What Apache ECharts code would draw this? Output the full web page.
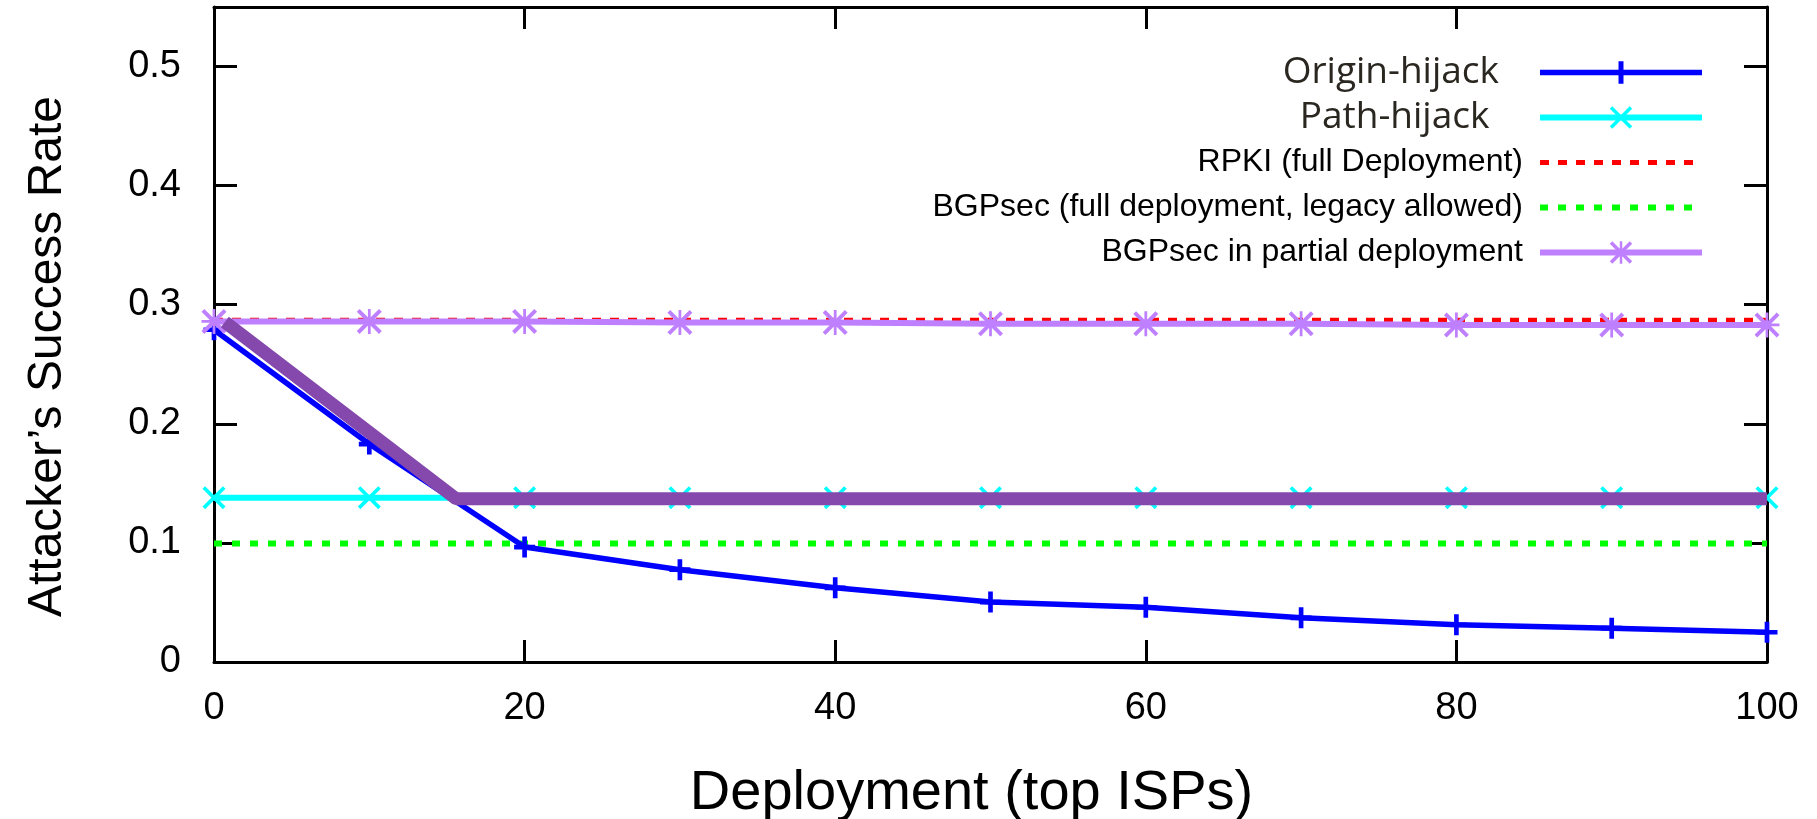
<!DOCTYPE html>
<html>
<head>
<meta charset="utf-8">
<script src="https://cdn.jsdelivr.net/npm/echarts@6/dist/echarts.min.js"></script>
<style>
  html, body { margin: 0; padding: 0; background: #fff; }
  #chart { width: 1817px; height: 819px; }
</style>
</head>
<body>
<div id="chart"></div>
<script>
// deployment of top ISPs (x values)
const deployment = [0, 10, 20, 30, 40, 50, 60, 70, 80, 90, 100];
const originHijack = [0.279, 0.183, 0.0965, 0.0775, 0.0623, 0.0503, 0.046, 0.0371, 0.0313, 0.0284, 0.025];
const pathHijack = [0.138, 0.138, 0.138, 0.138, 0.138, 0.138, 0.138, 0.138, 0.138, 0.138, 0.138];
const rpkiFull = [0.287, 0.287, 0.287, 0.287, 0.287, 0.287, 0.287, 0.287, 0.287, 0.287, 0.287];
const bgpsecFull = [0.0995, 0.0995, 0.0995, 0.0995, 0.0995, 0.0995, 0.0995, 0.0995, 0.0995, 0.0995, 0.0995];
const bgpsecPartial = [0.286, 0.286, 0.286, 0.285, 0.285, 0.284, 0.284, 0.284, 0.283, 0.283, 0.283];
// the thick overlay line (not in the legend)
const overlayX = [0.7, 15.6, 100];
const overlayY = [0.2855, 0.137, 0.137];

const xTicks = { min: 0, max: 100, interval: 20 };
const yTicks = { min: 0, max: 0.55, interval: 0.1 };

const seriesNames = [
  'Origin-hijack',
  'Path-hijack ',
  'RPKI (full Deployment)',
  'BGPsec (full deployment, legacy allowed)',
  'BGPsec in partial deployment'
];

const pts = (xs, ys) => xs.map((x, i) => [x, ys[i]]);

// gnuplot-like point shapes as filled paths
const plusPath = 'path://M7,0H11V7H18V11H11V18H7V11H0V7H7Z';
const crossPath = 'path://M0,2L2,0L18,16L16,18Z M16,0L18,2L2,18L0,16Z';
const starPath = 'path://M0,2L2,0L18,16L16,18Z M16,0L18,2L2,18L0,16Z M8,0H10V18H8Z M0,8H18V10H0Z';

const chart = echarts.init(document.getElementById('chart'));

const axisLineStyle = { color: '#000', width: 3 };
const tickStyle = { color: '#000', width: 3 };
const calibriLike = { fontFamily: 'Open Sans', fontSize: 37, color: '#2a2620', padding: [0, 36, 0, 0] };
const noMark = { color: 'rgba(0,0,0,0)', borderWidth: 0 };

chart.setOption({
  animation: false,
  backgroundColor: '#fff',
  grid: { left: 214, right: 50, top: 7, bottom: 157, outerBoundsMode: 'none' },
  legend: {
    orient: 'vertical',
    right: 107,
    top: 46,
    align: 'right',
    itemWidth: 162,
    itemHeight: 28,
    itemGap: 2,
    lineStyle: { width: 'inherit' },
    textStyle: { fontFamily: 'Liberation Sans', fontSize: 32, lineHeight: 43, color: '#000', padding: [0, 12, 0, 0] },
    data: [
      { name: seriesNames[0], textStyle: calibriLike },
      { name: seriesNames[1], textStyle: calibriLike },
      { name: seriesNames[2], itemStyle: noMark },
      { name: seriesNames[3], itemStyle: noMark },
      { name: seriesNames[4] }
    ]
  },
  xAxis: [{
    type: 'value',
    min: xTicks.min, max: xTicks.max, interval: xTicks.interval,
    name: 'Deployment (top ISPs)',
    nameLocation: 'middle',
    nameGap: 104,
    nameTextStyle: { fontFamily: 'Liberation Sans', fontSize: 56, color: '#000', padding: [0, 38, 0, 0] },
    axisLine: { onZero: false, lineStyle: axisLineStyle },
    axisTick: { inside: true, length: 22, lineStyle: tickStyle },
    axisLabel: { margin: 28, fontFamily: 'Liberation Sans', fontSize: 38, color: '#000' },
    splitLine: { show: false }
  }, {
    type: 'value', position: 'top',
    min: xTicks.min, max: xTicks.max, interval: xTicks.interval,
    axisLine: { show: true, onZero: false, lineStyle: axisLineStyle },
    axisTick: { inside: true, length: 22, lineStyle: tickStyle },
    axisLabel: { show: false },
    splitLine: { show: false }
  }],
  yAxis: [{
    type: 'value',
    min: yTicks.min, max: yTicks.max, interval: yTicks.interval,
    name: "Attacker\u2019s Success Rate",
    nameLocation: 'middle',
    nameGap: 142,
    nameTextStyle: { fontFamily: 'Liberation Sans', fontSize: 48, color: '#000', padding: [0, 44, 0, 0] },
    axisLine: { show: true, onZero: false, lineStyle: axisLineStyle },
    axisTick: { inside: true, length: 23, lineStyle: tickStyle },
    axisLabel: { margin: 33, fontFamily: 'Liberation Sans', fontSize: 38, color: '#000', showMaxLabel: false },
    splitLine: { show: false }
  }, {
    type: 'value', position: 'right',
    min: yTicks.min, max: yTicks.max, interval: yTicks.interval,
    axisLine: { show: true, onZero: false, lineStyle: axisLineStyle },
    axisTick: { inside: true, length: 23, lineStyle: tickStyle },
    axisLabel: { show: false },
    splitLine: { show: false }
  }],
  series: [{
    name: seriesNames[2],
    type: 'line',
    data: pts(deployment, rpkiFull),
    symbol: 'none',
    itemStyle: { color: '#ff0000' },
    lineStyle: { color: '#ff0000', width: 5, type: [9, 9] },
    z: 2
  }, {
    name: seriesNames[3],
    type: 'line',
    data: pts(deployment, bgpsecFull),
    symbol: 'none',
    itemStyle: { color: '#00ff00' },
    lineStyle: { color: '#00ff00', width: 6, type: [8, 10] },
    z: 2
  }, {
    name: seriesNames[0],
    type: 'line',
    data: pts(deployment, originHijack),
    symbol: plusPath,
    symbolSize: 21,
    itemStyle: { color: '#0000ff' },
    lineStyle: { color: '#0000ff', width: 5.5 },
    z: 3
  }, {
    name: seriesNames[1],
    type: 'line',
    data: pts(deployment, pathHijack),
    symbol: crossPath,
    symbolSize: 23,
    itemStyle: { color: '#00ffff' },
    lineStyle: { color: '#00ffff', width: 6 },
    z: 3
  }, {
    name: seriesNames[4],
    type: 'line',
    data: pts(deployment, bgpsecPartial),
    symbol: starPath,
    symbolSize: 25,
    itemStyle: { color: '#bf80ff' },
    lineStyle: { color: '#bf80ff', width: 6 },
    z: 4
  }, {
    name: 'overlay',
    type: 'line',
    data: pts(overlayX, overlayY),
    symbol: 'none',
    itemStyle: { color: '#8549ad' },
    lineStyle: { color: '#8549ad', width: 13 },
    z: 5
  }]
});
</script>
</body>
</html>
